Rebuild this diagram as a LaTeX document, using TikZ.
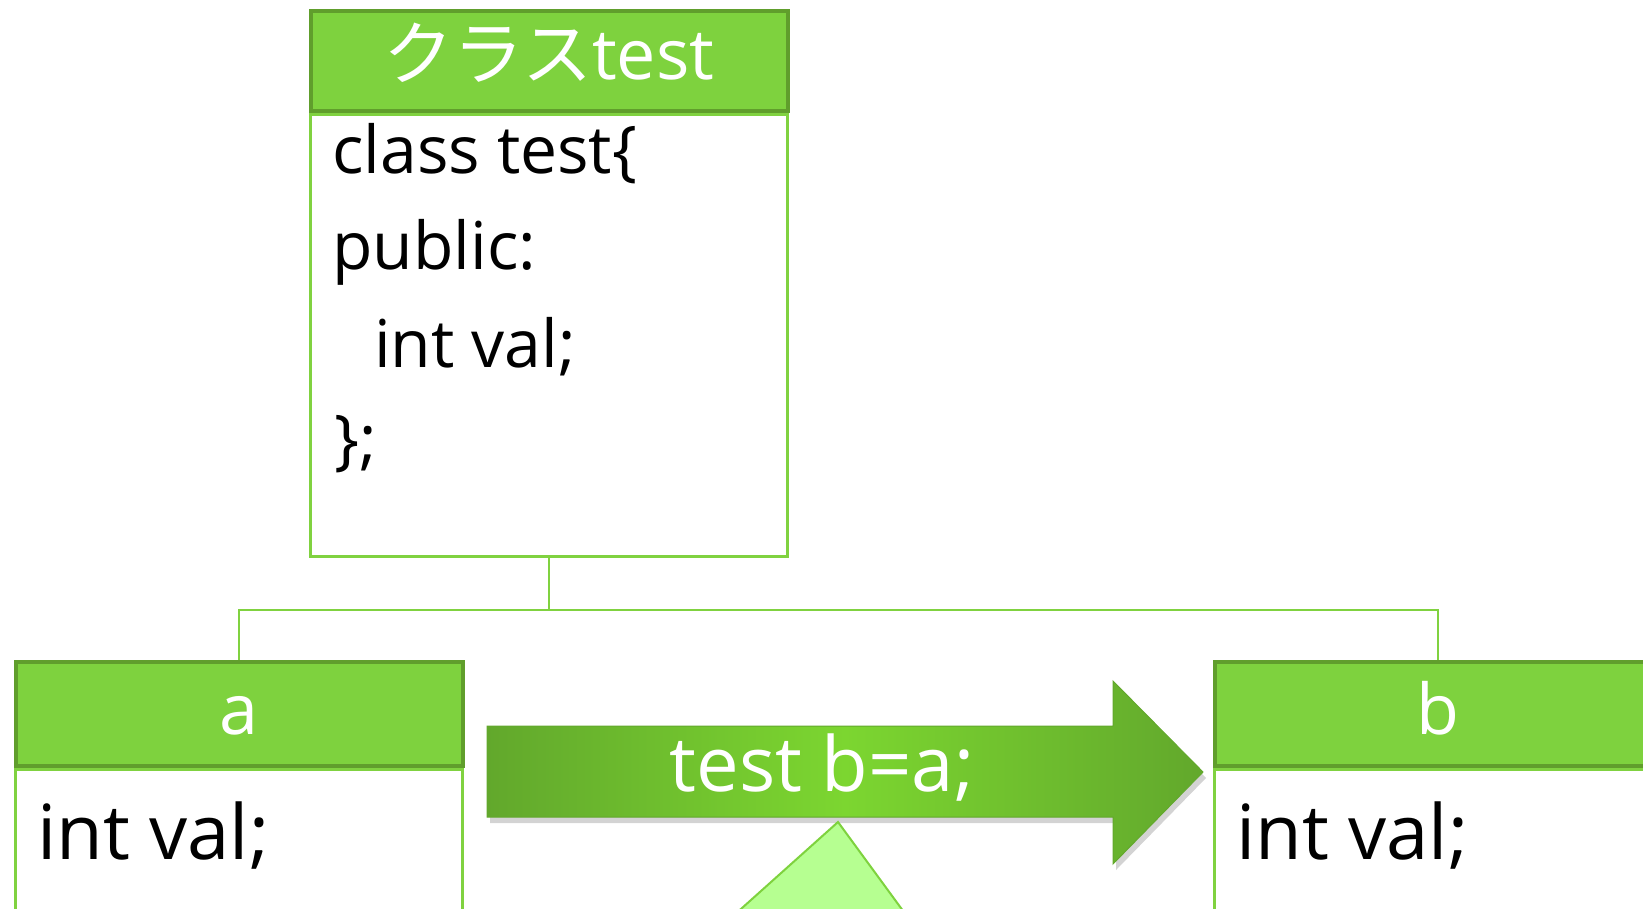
\documentclass[tikz,border=0pt]{standalone}
\usepackage{fontspec}
\setmainfont{Open Sans}
\newfontfamily\jpfont{Noto Sans CJK JP}
\usetikzlibrary{shadows}
\definecolor{hdgreen}{RGB}{126,210,62}
\definecolor{hdedge}{RGB}{96,158,44}
\definecolor{bdedge}{RGB}{128,210,64}
\definecolor{arrdark}{RGB}{98,168,44}
\definecolor{arrlight}{RGB}{124,214,48}
\definecolor{wedgefill}{RGB}{182,255,145}

\begin{document}
\begin{tikzpicture}[x=1pt,y=-1pt,
    bodybox/.style={draw=bdedge,line width=3pt,fill=white,anchor=north west,inner sep=0pt},
    headbox/.style={draw=hdedge,line width=4pt,fill=hdgreen,text=white,anchor=south,
      inner sep=0pt,minimum height=104pt,text height=50pt,text depth=9pt,
      font=\fontsize{70}{70}\selectfont},
    code/.style={anchor=base west,inner sep=0pt,font=\fontsize{66}{66}\selectfont},
    bigcode/.style={anchor=base west,inner sep=0pt,font=\fontsize{76}{76}\selectfont},
    link/.style={draw=bdedge,line width=2pt},
    copyarrow/.style={draw=arrdark,line width=1pt,left color=arrdark,right color=arrdark,
      middle color=arrlight,drop shadow={shadow xshift=3pt,shadow yshift=-6pt,opacity=.35}},
    wedge/.style={draw=hdgreen,line width=2pt,fill=wedgefill}]
  \clip (0,0) rectangle (1643,908);

  % class box
  \node[bodybox,minimum width=477pt,minimum height=442pt] (clsbody) at (309,113) {};
  \node[headbox,minimum width=477pt,minimum height=100pt,text height=48pt,text depth=11pt] (clshead) at (clsbody.north) {{\jpfont クラス}test};
  \node[code] (l1) at (332,173) {class test\{};
  \node[code] (l2) at (332,269) {public:};
  \node[code] (l3) at (374,367) {int val;};
  \node[code] (l4) at (334,462) {\};};

  % instances
  \node[bodybox,minimum width=447pt,minimum height=200pt] (abody) at (14,768) {};
  \node[headbox,minimum width=447pt] (ahead) at (abody.north) {a};
  \node[bigcode] (aval) at (37,859) {int val;};
  \node[bodybox,minimum width=447pt,minimum height=200pt] (bbody) at (1213,768) {};
  \node[headbox,minimum width=447pt] (bhead) at (bbody.north) {b};
  \node[bigcode] (bval) at (1236,859) {int val;};

  % tree lines
  \coordinate (fork) at (clsbody.south |- 0,610);
  \draw[link] (clsbody.south) -- (fork);
  \draw[link] (ahead.north) |- (fork) -| (bhead.north);

  % copy arrow
  \path[copyarrow] (487,726) -- (1113,726) -- (1113,681) -- (1203,772)
    -- (1113,864) -- (1113,817) -- (487,817) -- cycle;
  \node[anchor=base,inner sep=0pt,text=white,font=\fontsize{76}{76}\selectfont] (assign) at (822,791) {test b=a;};

  \draw[wedge] (838,822) -- (684,960) -- (939,960) -- cycle;
\end{tikzpicture}
\end{document}
